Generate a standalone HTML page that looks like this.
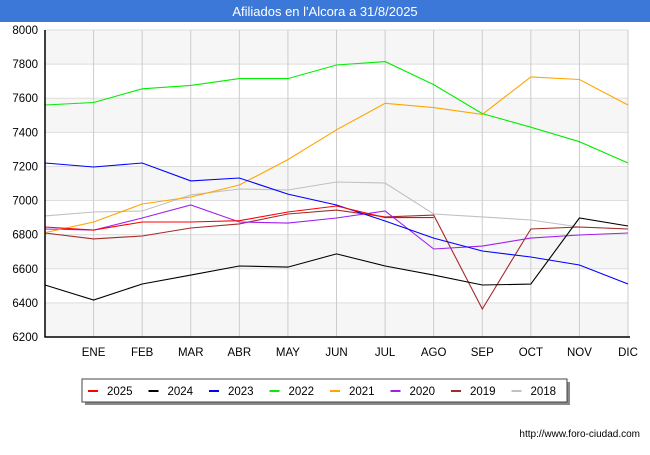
<!DOCTYPE html>
<html><head><meta charset="utf-8"><style>
body{margin:0;background:#fff;font-family:"Liberation Sans",sans-serif}
</style></head><body>
<svg id="chart" width="650" height="450" xmlns="http://www.w3.org/2000/svg" font-family="Liberation Sans, sans-serif">
<rect width="650" height="450" fill="#fff"/>
<rect x="0" y="0" width="650" height="22" fill="#3c78d8"/>
<text x="325" y="16" text-anchor="middle" fill="#fff" font-size="13">Afiliados en l'Alcora a 31/8/2025</text>
<g id="grid"></g>
<g id="series"></g>
<g id="axes"></g>
<rect x="85" y="382" width="485" height="23" fill="#888"/>
<rect x="82" y="379" width="485" height="23" fill="#fff" stroke="#444"/>
<g id="legend"></g>
<text x="640" y="437" text-anchor="end" font-size="10" fill="#000">http://www.foro-ciudad.com</text>
</svg>
<script>
const months=["","ENE","FEB","MAR","ABR","MAY","JUN","JUL","AGO","SEP","OCT","NOV","DIC"];
const yTicks=[6200,6400,6600,6800,7000,7200,7400,7600,7800,8000];
const seriesNames=["2025","2024","2023","2022","2021","2020","2019","2018"];
const seriesColors=["#ff0000","#000000","#0000ff","#00ee00","#ffa500","#a020f0","#a52a2a","#c0c0c0"];
const s2025=[6845,6827,6874,6874,6882,6933,6968,6900,6900];
const s2024=[6505,6417,6511,6563,6616,6610,6687,6616,6563,6505,6510,6898,6851];
const s2023=[7220,7197,7220,7115,7132,7038,6974,6880,6780,6704,6669,6622,6511];
const s2022=[7560,7575,7655,7675,7715,7715,7795,7815,7680,7510,7430,7345,7220];
const s2021=[6812,6874,6980,7021,7091,7240,7415,7570,7545,7505,7725,7710,7560];
const s2020=[6833,6827,6898,6974,6874,6868,6898,6939,6716,6733,6780,6798,6810];
const s2019=[6810,6775,6792,6839,6863,6921,6944,6904,6915,6364,6833,6845,6833];
const s2018=[6910,6933,6939,7033,7068,7062,7109,7103,6921,6904,6886,6845,6833];
const allSeries=[s2025,s2024,s2023,s2022,s2021,s2020,s2019,s2018];
const NS="http://www.w3.org/2000/svg";
const X0=45,X1=628,Y0=337,Y1=30;
const xs=i=>X0+(X1-X0)*i/(months.length-1);
const ys=v=>Y0-(v-6200)/(8000-6200)*(Y0-Y1);
function mk(t,a,p){const e=document.createElementNS(NS,t);for(const k in a)e.setAttribute(k,a[k]);p.appendChild(e);return e;}
const grid=document.getElementById('grid'),axes=document.getElementById('axes'),ser=document.getElementById('series'),leg=document.getElementById('legend');
for(let i=0;i<yTicks.length-1;i++){
  if(i%2===0){const b=mk('rect',{x:X0,y:ys(yTicks[i+1]),width:X1-X0,height:ys(yTicks[i])-ys(yTicks[i+1]),fill:'#f6f6f6'},grid);
  
  }
}
yTicks.forEach(v=>{
  const l=mk('line',{x1:X0,x2:X1,y1:ys(v),y2:ys(v),stroke:'#ddd'},grid);
  
  
  const t=mk('text',{x:38,y:ys(v)+4,'text-anchor':'end','font-size':'11.5',fill:'#000'},axes);t.textContent=v;
  
  
});
months.forEach((m,i)=>{
  if(i>0){const l=mk('line',{x1:xs(i),x2:xs(i),y1:Y1,y2:Y0,stroke:'#ccc'},grid);
  
  }
  if(m){const t=mk('text',{x:xs(i),y:356,'text-anchor':'middle','font-size':'11.5',fill:'#000'},axes);t.textContent=m;
  
  }
});
const ax=mk('path',{d:`M${X0},${Y1}V${Y0}H${X1+2}`,stroke:'#000','stroke-width':1.5,fill:'none'},axes);


for(let k=allSeries.length-1;k>=0;k--){
  const d=allSeries[k].map((v,i)=>(i?'L':'M')+xs(i).toFixed(1)+','+ys(v).toFixed(1)).join('');
  const p=mk('path',{d:d,stroke:seriesColors[k],'stroke-width':1.1,fill:'none'},ser);
  
  
}
seriesNames.forEach((n,k)=>{
  const x=88+k*60.5;
  const g=mk('g',{},leg);
  
  
  mk('line',{x1:x,x2:x+10,y1:391,y2:391,stroke:seriesColors[k],'stroke-width':2},g);
  const t=mk('text',{x:x+19,y:395,'font-size':'11.5',fill:'#000'},g);t.textContent=n;
});
</script>
</body></html>
